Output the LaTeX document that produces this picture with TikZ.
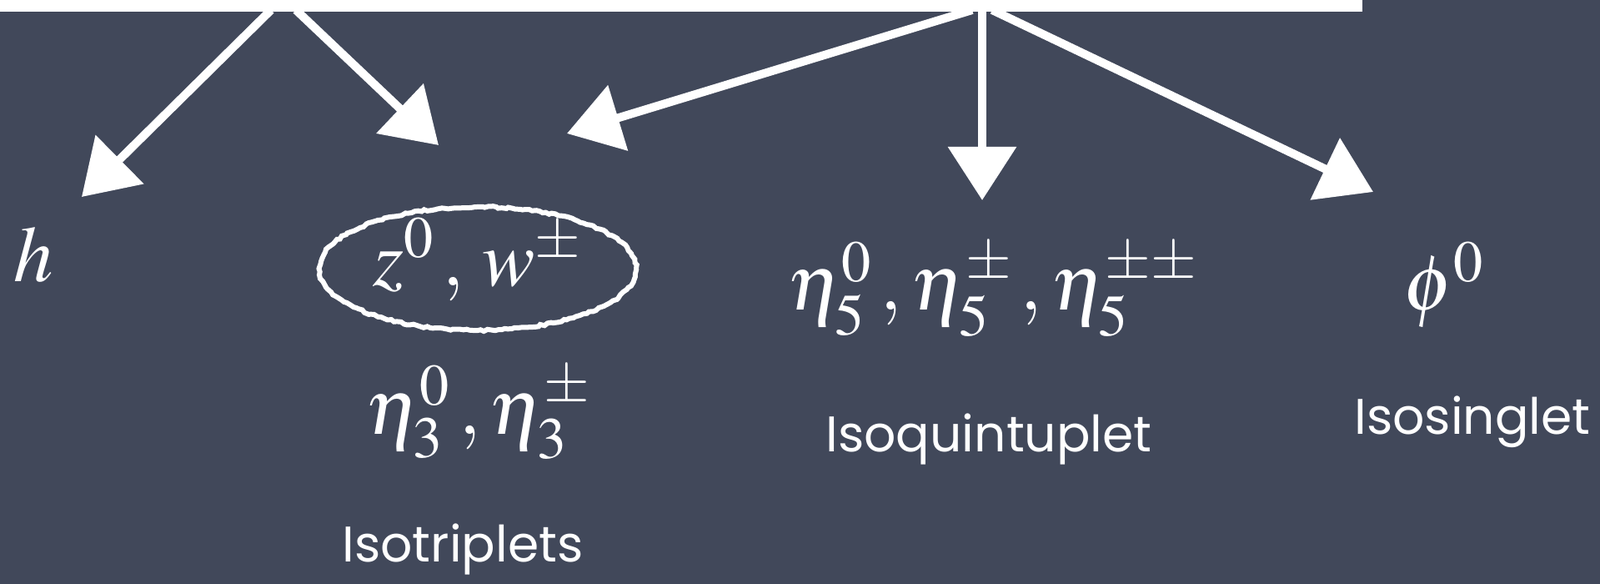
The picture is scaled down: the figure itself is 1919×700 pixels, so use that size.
\documentclass[tikz,border=0pt]{standalone}
\usepackage{mathptmx}
\usepackage{fontspec}
\newfontfamily\hand{Poppins}
\usetikzlibrary{arrows.meta,decorations.pathmorphing,shapes.geometric}
\definecolor{board}{HTML}{41485A}
\tikzset{
  chalkarrow/.style={draw=white, line width=10pt,
    -{Triangle[length=64pt,width=80pt]}},
  mathlbl/.style={text=white, anchor=base, inner sep=0pt, font=\fontsize{95}{100}\selectfont},
  handlbl/.style={text=white, anchor=base, inner sep=0pt, font=\hand\fontsize{60}{66}\selectfont},
  chalkring/.style={draw=white, line width=6pt, decorate,
    decoration={random steps, segment length=4pt, amplitude=1.2pt}}
}
\begin{document}
\begin{tikzpicture}[x=1pt,y=-1pt]
\useasboundingbox (0,0) rectangle (1919,700);
\fill[board] (0,0) rectangle (1919,700);
\fill[white] (0,0) rectangle (1634,14);
% labels
\node[mathlbl] (h) at (40,338) {$h$};
\node[mathlbl] (zw) at (572,343) {$z^0\,,\, w^{\pm}$};
\node[mathlbl] (eta3) at (573,520) {$\eta_3^0\,, \eta_3^{\pm}$};
\node[handlbl] (iso3) at (555,673) {Isotriplets};
\node[mathlbl] (eta5) at (1190,372) {$\eta_5^0\,, \eta_5^{\pm}\,, \eta_5^{\pm\pm}$};
\node[handlbl] (iso5) at (1186,541) {Isoquintuplet};
\node[mathlbl] (phi) at (1731,372) {$\phi^0$};
\node[handlbl] (iso1) at (1766,520) {Isosinglet};
% ring round z,w
\node[chalkring, ellipse, minimum width=380pt, minimum height=148pt] (ring) at (573,322) {};
% arrow ends
\coordinate (oA) at (325,12);
\coordinate (oB) at (355,12);
\coordinate (oC) at (1166,12);
\coordinate (oD) at (1178,12);
\coordinate (oE) at (1190,12);
\coordinate (tA) at (98,236);
\coordinate (tB) at (526,174);
\coordinate (tC) at (680,160);
\coordinate (tD) at (1178,240);
\coordinate (tE) at (1647,230);
\draw[chalkarrow] (oA) -- (tA);
\draw[chalkarrow] (oB) -- (tB);
\draw[chalkarrow] (oC) -- (tC);
\draw[chalkarrow] (oD) -- (tD);
\draw[chalkarrow] (oE) -- (tE);
\end{tikzpicture}
\end{document}
